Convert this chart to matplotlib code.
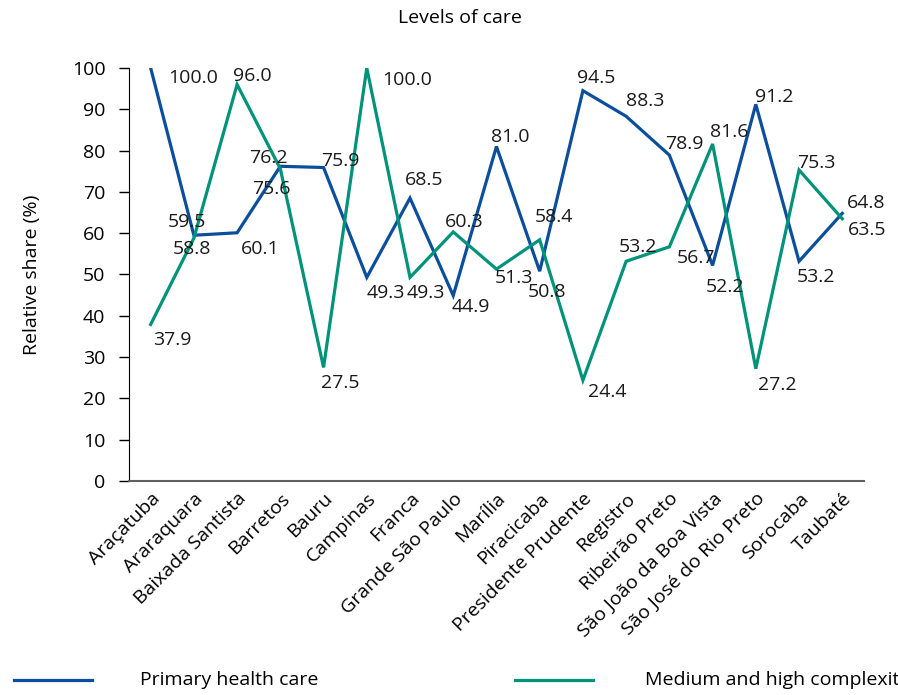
import matplotlib
matplotlib.use("Agg")
import matplotlib.pyplot as plt
from matplotlib.lines import Line2D

plt.rcParams['font.family'] = ['Open Sans', 'DejaVu Sans']

categories = ["Araçatuba", "Araraquara", "Baixada Santista", "Barretos", "Bauru",
              "Campinas", "Franca", "Grande São Paulo", "Marília", "Piracicaba",
              "Presidente Prudente", "Registro", "Ribeirão Preto",
              "São João da Boa Vista", "São José do Rio Preto", "Sorocaba", "Taubaté"]
primary = [100.0, 59.5, 60.1, 76.2, 75.9, 49.3, 68.5, 44.9, 81.0, 50.8,
           94.5, 88.3, 78.9, 52.2, 91.2, 53.2, 64.8]
medium = [37.9, 58.8, 96.0, 75.6, 27.5, 100.0, 49.3, 60.3, 51.3, 58.4,
          24.4, 53.2, 56.7, 81.6, 27.2, 75.3, 63.5]
series_names = ["Primary health care", "Medium and high complexity"]
yticks = [0, 10, 20, 30, 40, 50, 60, 70, 80, 90, 100]

# label offsets (pixels, dx right, dy down)
off_primary = [(42, 10), (-7, -13), (23, 16), (-12, -8), (17, -7), (19, 16), (14, -18),
               (18, 11), (14, -9), (7, 21), (13, -13), (19, -15), (15, -11), (12, 22),
               (18, -7), (17, 16), (24, -10)]
off_medium = [(22, 16), (-2, 11), (15, -8), (-9, 20), (17, 16), (40, 12), (16, 16),
              (11, -10), (17, 9), (14, -23), (24, 12), (12, -14), (27, 11), (17, -12),
              (22, 16), (17, -7), (25, 11)]

blue = "#0b4f9c"
green = "#00937a"
FS = 14

fig = plt.figure(figsize=(8.98, 6.95), dpi=100)
ax = fig.add_axes([0.1437, 0.3079, 0.8183, 0.5943])

x = list(range(len(categories)))
ax.plot(x, primary, color=blue, lw=2.3, solid_joinstyle='miter')
ax.plot(x, medium, color=green, lw=2.3, solid_joinstyle='miter')

for xs, vals, offs in [(x, primary, off_primary), (x, medium, off_medium)]:
    for xi, v, (dx, dy) in zip(xs, vals, offs):
        ax.annotate(f"{v:.1f}", (xi, v), xytext=(dx, -dy), textcoords='offset pixels',
                    ha='center', va='center', fontsize=FS, color='#1a1a1a',
                    annotation_clip=False)

ax.set_xlim(-0.5, len(categories) - 0.5)
ax.set_ylim(0, 100)
ax.set_yticks(yticks)
ax.set_yticklabels([str(t) for t in yticks], fontsize=FS)
ax.set_xticks(x)
ax.set_xticklabels(categories, rotation=45, ha='right', rotation_mode='anchor', fontsize=FS)
ax.tick_params(axis='x', length=0, pad=6)
ax.tick_params(axis='y', length=7, width=1, direction='out', pad=10)
for s in ['top', 'right']:
    ax.spines[s].set_visible(False)
ax.spines['left'].set_color('black')
ax.spines['bottom'].set_color('#606060')
ax.spines['bottom'].set_linewidth(1.5)
ax.set_ylabel("Relative share (%)", fontsize=FS, labelpad=22)

fig.text(460 / 898, 1 - 18 / 695, "Levels of care", ha='center', va='center', fontsize=FS)

# legend
ly = 1 - 680 / 695
fig.add_artist(Line2D([14 / 898, 92 / 898], [ly, ly], color=blue, lw=2.3))
fig.text(140 / 898, ly, series_names[0], ha='left', va='center', fontsize=FS)
fig.add_artist(Line2D([515 / 898, 593 / 898], [ly, ly], color=green, lw=2.3))
fig.text(645 / 898, ly, series_names[1], ha='left', va='center', fontsize=FS)

fig.savefig("out.png", dpi=100)
